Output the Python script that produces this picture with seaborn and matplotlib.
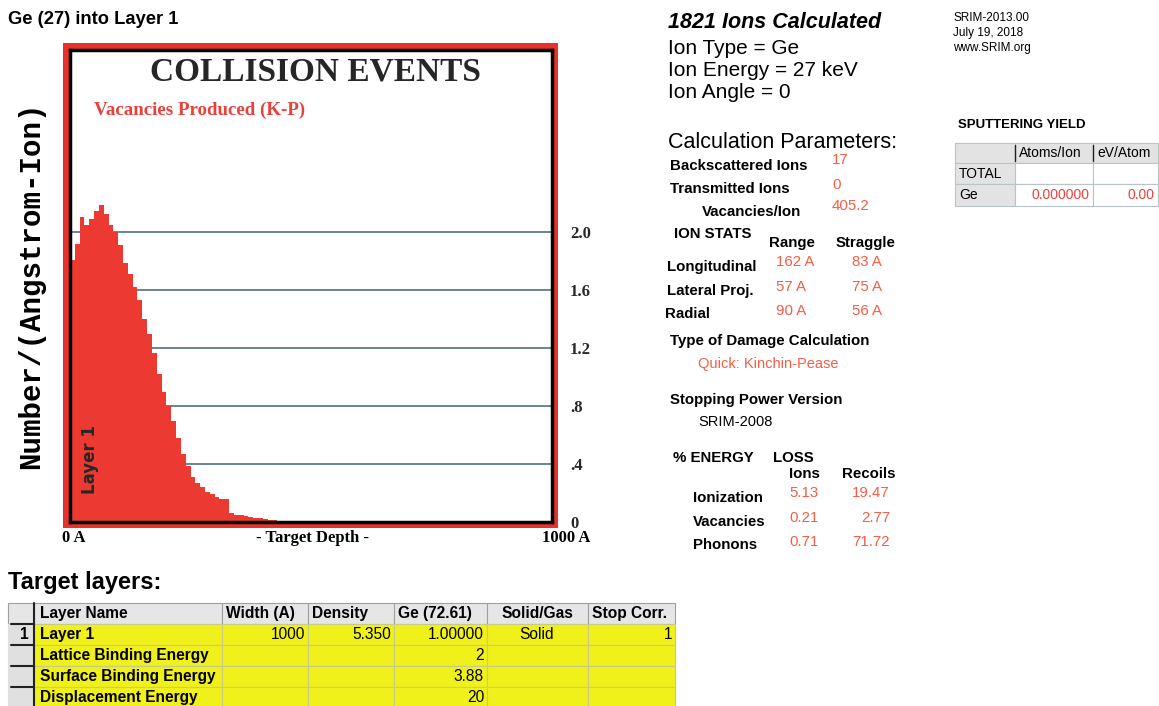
import numpy as np
import pandas as pd
import matplotlib
matplotlib.use("Agg")
import matplotlib.pyplot as plt
from matplotlib.patches import Rectangle
import seaborn as sns

# vacancies produced per 10 A depth bin (Number/(Angstrom-Ion))
bin_width = 10
vacancies = [1.81, 1.92, 2.11, 2.05, 2.09, 2.15, 2.19, 2.13, 2.05, 2.00,
             1.91, 1.79, 1.71, 1.62, 1.53, 1.40, 1.30, 1.17, 1.02, 0.90,
             0.80, 0.70, 0.58, 0.47, 0.39, 0.31, 0.27, 0.24, 0.21, 0.19,
             0.17, 0.16, 0.16, 0.06, 0.05, 0.045, 0.04, 0.035, 0.03, 0.025,
             0.02, 0.015, 0.012, 0.01, 0.01, 0.008, 0.006, 0.005, 0.004, 0.003]
vacancies = vacancies + [0.0] * (100 - len(vacancies))
depth = np.arange(len(vacancies)) * bin_width + bin_width / 2
y_ticks = [0, 0.4, 0.8, 1.2, 1.6, 2.0]
y_ticklabels = ["0", ".4", ".8", "1.2", "1.6", "2.0"]

# run info
ion_info = ["Ion Type = Ge", "Ion Energy = 27 keV", "Ion Angle = 0"]
calc_labels = ["Backscattered Ions", "Transmitted Ions", "Vacancies/Ion"]
calc_values = ["17", "0", "405.2"]
stat_rows = ["Longitudinal", "Lateral Proj.", "Radial"]
stat_range = ["162 A", "57 A", "90 A"]
stat_straggle = ["83 A", "75 A", "56 A"]
energy_rows = ["Ionization", "Vacancies", "Phonons"]
energy_ions = ["5.13", "0.21", "0.71"]
energy_recoils = ["19.47", "2.77", "71.72"]
version_lines = ["SRIM-2013.00", "July 19, 2018", "www.SRIM.org"]

# sputtering yield table
sput_header = ["", "Atoms/Ion", "eV/Atom"]
sput_rows = [["TOTAL", "", ""], ["Ge", "0.000000", "0.00"]]

# target layers table
layer_header = ["Layer Name", "Width (A)", "Density", "Ge (72.61)", "Solid/Gas", "Stop Corr."]
layer_index = ["1", "", "", ""]
layer_rows = [["Layer 1", "1000", "5.350", "1.00000", "Solid", "1"],
              ["Lattice Binding Energy", "", "", "2", "", ""],
              ["Surface Binding Energy", "", "", "3.88", "", ""],
              ["Displacement Energy", "", "", "20", "", ""]]

hist_red = "#ec3a33"
frame_red = "#e8312b"
val_red = "#f55d45"

sns.set_style("white")
plt.rcParams["font.family"] = ["Liberation Sans", "DejaVu Sans"]

W, H = 1159, 706
fig = plt.figure(figsize=(W / 100, H / 100), dpi=100)
bg = fig.add_axes([0, 0, 1, 1], zorder=0)
bg.set_xlim(0, W)
bg.set_ylim(H, 0)
bg.axis("off")


def px_box(x0, y0, x1, y1):
    return [x0 / W, 1 - y1 / H, (x1 - x0) / W, (y1 - y0) / H]


def txt(x, y, s, size=11, weight="normal", color="black", ha="left", **kw):
    return bg.text(x, y, s, fontsize=size, fontweight=weight, color=color,
                   ha=ha, va="center", **kw)


# ---- collision events histogram ----
bg.add_patch(Rectangle((63, 43), 495, 485, color=frame_red, lw=0))
ax = fig.add_axes(px_box(70, 50, 552, 522), zorder=1)
ax.set_facecolor("white")
for yv in y_ticks[1:]:
    ax.axhline(yv, color="#3d6672", lw=1.1, zorder=0.5)
df = pd.DataFrame({"depth": depth, "vacancies": vacancies})
sns.histplot(data=df, x="depth", weights="vacancies",
             bins=list(range(0, 1001, bin_width)),
             element="step", fill=True, color=hist_red, alpha=1, linewidth=0, ax=ax)
ax.set_xlim(0, 1000)
ax.set_ylim(0, 3.26)
ax.set_xlabel("")
ax.set_ylabel("")
ax.set_xticks(np.arange(100, 1000, 100))
ax.tick_params(axis="x", direction="in", length=6, width=1, color="#f6d2cc",
               labelbottom=False)
ax.yaxis.tick_right()
ax.set_yticks(y_ticks)
ax.set_yticklabels(y_ticklabels, fontfamily="Liberation Serif", fontweight="bold",
                   fontsize=12)
ax.tick_params(axis="y", length=0, pad=13)
for s in ax.spines.values():
    s.set_color("black")
    s.set_linewidth(2.5)

ax.text(315, 72, "COLLISION EVENTS", transform=bg.transData, ha="center", va="center",
        fontfamily="Liberation Serif", fontweight="bold", fontsize=24)
ax.text(94, 110, "Vacancies Produced (K-P)", transform=bg.transData, ha="left",
        va="center", fontfamily="Liberation Serif", fontweight="bold", fontsize=13.6,
        color="#e8403a")
ax.text(90, 460, "Layer 1", transform=bg.transData, ha="center", va="center",
        rotation=90, fontfamily="DejaVu Sans", fontweight="bold", fontsize=12)

txt(31, 285, "Number/(Angstrom-Ion)", size=21, weight="bold", ha="center",
    rotation=90, fontfamily=["Liberation Mono", "DejaVu Sans Mono"])
txt(62, 538, "0 A", size=12, weight="bold", fontfamily="Liberation Serif")
txt(312, 538, "- Target Depth -", size=12, weight="bold", ha="center",
    fontfamily="Liberation Serif")
txt(590, 538, "1000 A", size=12, weight="bold", ha="right", fontfamily="Liberation Serif")
txt(8, 20, "Ge (27) into Layer 1", size=13.2, weight="bold")

# ---- right info panel ----
txt(668, 23, "1821 Ions Calculated", size=15.5, weight="bold", style="italic")
for s, yy in zip(ion_info, [48, 71, 93]):
    txt(668, yy, s, size=15)
txt(668, 143, "Calculation Parameters:", size=15.5)
for lab, val, lx, ly, vy in zip(calc_labels, calc_values, [670, 670, 702],
                                [166, 189, 212], [160, 185, 206]):
    txt(lx, ly, lab, size=10.8, weight="bold")
    txt(832, vy, val, size=10.8, color=val_red)
txt(674, 234, "ION STATS", size=10.8, weight="bold")
txt(769, 243, "Range", size=10.8, weight="bold")
txt(836, 243, "Straggle", size=10.8, weight="bold")
for lab, rv, sv, lx, ly, vy in zip(stat_rows, stat_range, stat_straggle,
                                   [667, 667, 665], [267, 291, 314], [262, 287, 311]):
    txt(lx, ly, lab, size=10.8, weight="bold")
    txt(776, vy, rv, size=10.8, color=val_red)
    txt(852, vy, sv, size=10.8, color=val_red)
txt(670, 341, "Type of Damage Calculation", size=10.8, weight="bold")
txt(698, 364, "Quick: Kinchin-Pease", size=10.5, color=val_red)
txt(670, 400, "Stopping Power Version", size=10.8, weight="bold")
txt(698, 422, "SRIM-2008", size=10.5)
txt(673, 458, "% ENERGY", size=10.8, weight="bold")
txt(773, 458, "LOSS", size=10.8, weight="bold")
txt(789, 474, "Ions", size=10.8, weight="bold")
txt(842, 474, "Recoils", size=10.8, weight="bold")
for lab, iv, rv, ly, vy in zip(energy_rows, energy_ions, energy_recoils,
                               [498, 522, 545], [493, 518, 542]):
    txt(693, ly, lab, size=10.8, weight="bold")
    txt(789, vy, iv, size=10.8, color=val_red)
    txt(890, vy, rv, size=10.8, color=val_red, ha="right")

for s, yy in zip(version_lines, [18, 33, 48]):
    txt(953, yy, s, size=8.5)

# ---- sputtering yield table ----
txt(958, 125, "SPUTTERING YIELD", size=9.5, weight="bold")
sx = [955, 1015, 1093, 1158]
sy = [143, 163, 184, 206]
for r in range(3):
    for c in range(3):
        grey = r == 0 or c == 0
        bg.add_patch(Rectangle((sx[c], sy[r]), sx[c + 1] - sx[c], sy[r + 1] - sy[r],
                               facecolor="#e3e3e3" if grey else "white",
                               edgecolor="#b8c4c8", lw=0.8))
for c in range(1, 3):
    bg.plot([sx[c], sx[c]], [sy[0] + 2, sy[1] - 2], color="#222222", lw=1)
    txt(sx[c] + 4, (sy[0] + sy[1]) / 2, sput_header[c], size=10)
for r, row in enumerate(sput_rows, start=1):
    ym = (sy[r] + sy[r + 1]) / 2
    txt(959, ym, row[0], size=10)
    for c in (1, 2):
        if row[c]:
            txt(sx[c + 1] - 4, ym, row[c], size=10, color="#e8403a", ha="right")

# ---- target layers table ----
txt(8, 583, "Target layers:", size=17, weight="bold")
cx = [8, 34, 222, 308, 394, 487, 588, 675]
ry = [603, 624, 645, 666, 687, 708]
yellow = "#f0f01a"
for r in range(5):
    for c in range(7):
        if r == 0:
            fc, ec = "#e6e6e6", "#a0a0a0"
        elif c == 0:
            fc, ec = "#e0e0e0", "#e0e0e0"
        else:
            fc, ec = yellow, "#c9c98a"
        bg.add_patch(Rectangle((cx[c], ry[r]), cx[c + 1] - cx[c], ry[r + 1] - ry[r],
                               facecolor=fc, edgecolor=ec, lw=0.8))
bg.plot([cx[1], cx[1]], [ry[0], ry[5]], color="#222222", lw=1.5)
for r in range(1, 5):
    bg.plot([cx[0] + 3, cx[1]], [ry[r], ry[r]], color="#222222", lw=1.5)

head_x = [40, 226, 312, 398, 537, 592]
head_ha = ["left", "left", "left", "left", "center", "left"]
ym = (ry[0] + ry[1]) / 2
for c, (s, hx, ha) in enumerate(zip(layer_header, head_x, head_ha)):
    t = txt(hx, ym, s, size=11.2, weight="bold", ha=ha)
    clip = Rectangle((cx[c + 1], ry[0]), cx[c + 2] - cx[c + 1] - 2, ry[1] - ry[0],
                     transform=bg.transData)
    t.set_clip_path(clip)

cell_x = [40, 305, 391, 484, 537, 672]
cell_ha = ["left", "right", "right", "right", "center", "right"]
for r, (idx, row) in enumerate(zip(layer_index, layer_rows), start=1):
    ym = (ry[r] + ry[r + 1]) / 2
    if idx:
        txt(29, ym, idx, size=11.2, weight="bold", ha="right")
    for s, xx, ha in zip(row, cell_x, cell_ha):
        if s:
            txt(xx, ym, s, size=11.2, weight="bold" if ha == "left" else "normal", ha=ha)

fig.savefig("out.png", dpi=100)
